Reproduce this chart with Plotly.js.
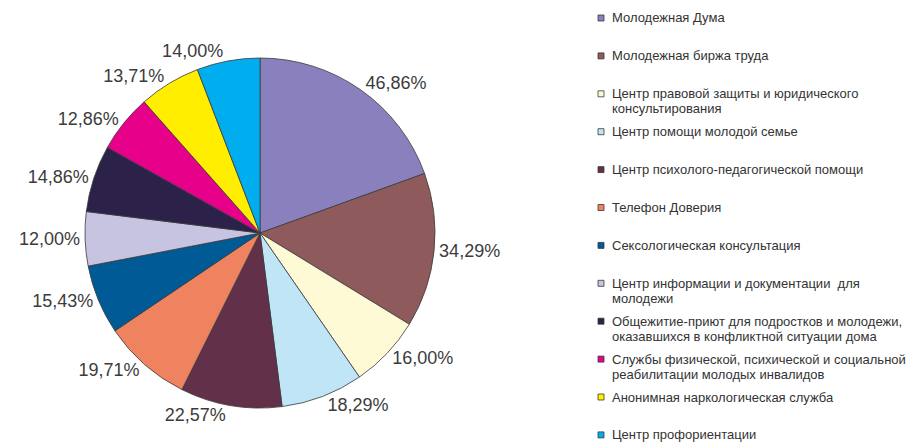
<!DOCTYPE html>
<html>
<head>
<meta charset="utf-8">
<script src="https://cdn.plot.ly/plotly-3.0.1.min.js"></script>
<style>html,body{margin:0;padding:0;background:#fff;}#chart{width:908px;height:443px;}</style>
</head>
<body>
<div id="chart"></div>
<script>
const categories = [
  "Молодежная Дума",
  "Молодежная биржа труда",
  "Центр правовой защиты и юридического\nконсультирования",
  "Центр помощи молодой семье",
  "Центр психолого-педагогической помощи",
  "Телефон Доверия",
  "Сексологическая консультация",
  "Центр информации и документации  для\nмолодежи",
  "Общежитие-приют для подростков и молодежи,\nоказавшихся в конфликтной ситуации дома",
  "Службы физической, психической и социальной\nреабилитации молодых инвалидов",
  "Анонимная наркологическая служба",
  "Центр профориентации"
];
const values = [46.86, 34.29, 16.00, 18.29, 22.57, 19.71, 15.43, 12.00, 14.86, 12.86, 13.71, 14.00];
const colors = ["#8a80bd", "#8e5a5c", "#fffad6", "#bfe5f7", "#623149", "#f0835f", "#005a96", "#c7c4e2", "#2c2249", "#e6008a", "#ffee00", "#00aeef"];
const valueLabels = values.map(v => v.toFixed(2).replace('.', ',') + '%');

const W = 908, H = 443;
const font = '"Liberation Sans", Arial, sans-serif';

const pieTrace = {
  type: 'pie',
  values: values,
  labels: categories.map(c => c.replace('\n', ' ')),
  text: valueLabels,
  textinfo: 'text',
  textposition: 'outside',
  sort: false,
  direction: 'clockwise',
  rotation: 0,
  showlegend: false,
  hoverinfo: 'label+text',
  marker: {colors: colors, line: {color: '#3a3a3a', width: 0.8}},
  outsidetextfont: {family: font, size: 18, color: '#3c3c3c'},
  domain: {x: [85 / W, 435 / W], y: [1 - 408 / H, 1 - 58 / H]}
};

// legend built as annotations + swatches
const annotations = [];
const shapes = [];
const legX = 610, swX0 = 598, swX1 = 604, legTop = 18, legStep = 37.9, lineStep = 15;
categories.forEach((c, i) => {
  const y0 = legTop + i * legStep;
  c.split('\n').forEach((line, j) => {
    annotations.push({
      xref: 'paper', yref: 'paper', x: legX / W, y: 1 - (y0 + j * lineStep) / H,
      xanchor: 'left', yanchor: 'middle', showarrow: false, text: line,
      font: {family: font, size: 13, color: '#333333'}
    });
  });
  shapes.push({
    type: 'rect', xref: 'paper', yref: 'paper',
    x0: swX0 / W, x1: swX1 / W, y0: 1 - (y0 - 3) / H, y1: 1 - (y0 + 3) / H,
    fillcolor: colors[i], line: {color: '#3a3a3a', width: 0.8}
  });
});

const layout = {
  width: W, height: H,
  margin: {l: 0, r: 0, t: 0, b: 0},
  paper_bgcolor: '#ffffff',
  font: {family: font},
  annotations: annotations,
  shapes: shapes,
  showlegend: false
};

Plotly.newPlot('chart', [pieTrace], layout, {displayModeBar: false, staticPlot: true});
</script>
</body>
</html>
